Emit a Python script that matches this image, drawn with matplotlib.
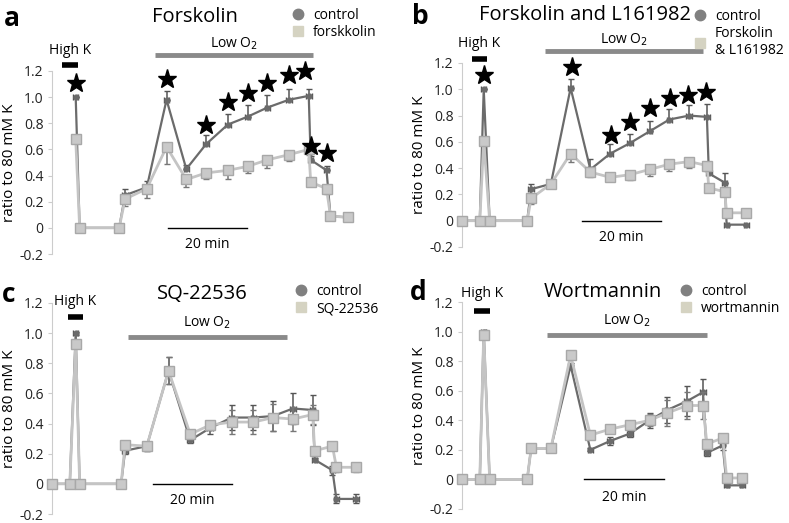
import numpy as np
import matplotlib.pyplot as plt
from matplotlib.lines import Line2D

plt.rcParams['font.family'] = ['Open Sans', 'DejaVu Sans']

W, H = 789, 523

# panel a - Forskolin (x in minutes)
a_x = [6, 7, 17, 18.5, 24, 29, 34, 39, 44.5, 49.5, 54.5, 60, 65, 65.5, 69.5, 70.5, 75]
a_ctrl = [1.0, 0, 0, 0.25, 0.31, 0.98, 0.45, 0.64, 0.79, 0.85, 0.92, 0.98, 1.01, 0.52, 0.44, 0.09, 0.08]
a_ctrl_err = [0, 0, 0, 0.05, 0.05, 0.07, 0.03, 0.07, 0.08, 0.09, 0.10, 0.08, 0.05, 0.03, 0.03, 0.01, 0.01]
a_trt = [0.68, 0, 0, 0.22, 0.30, 0.62, 0.37, 0.42, 0.44, 0.47, 0.52, 0.56, 0.60, 0.35, 0.30, 0.09, 0.08]
a_trt_err = [0.02, 0, 0, 0.05, 0.07, 0.13, 0.06, 0.05, 0.07, 0.05, 0.06, 0.05, 0.04, 0.03, 0.04, 0.01, 0.01]
a_star_x = [6, 29, 39, 44.5, 49.5, 54.5, 60, 64, 65.5, 69.5]
a_star_y = [1.11, 1.14, 0.79, 0.96, 1.03, 1.11, 1.17, 1.20, 0.63, 0.57]

# panel b - Forskolin and L161982
b_x = [0, 4.5, 5.5, 7, 16.5, 17.5, 22.5, 27.5, 32.5, 37.5, 42.5, 47.5, 52.5, 57.5, 62, 62.5, 66.5, 67, 72]
b_ctrl = [0, 0, 1.0, 0, 0, 0.24, 0.28, 1.01, 0.39, 0.51, 0.59, 0.68, 0.77, 0.80, 0.79, 0.36, 0.29, -0.03, -0.03]
b_ctrl_err = [0, 0, 0, 0, 0, 0.04, 0.02, 0.07, 0.08, 0.07, 0.07, 0.08, 0.08, 0.08, 0.10, 0.02, 0.07, 0, 0]
b_trt = [0, 0, 0.61, 0, 0, 0.17, 0.28, 0.51, 0.37, 0.33, 0.35, 0.39, 0.43, 0.45, 0.42, 0.25, 0.22, 0.06, 0.06]
b_trt_err = [0, 0, 0.02, 0, 0, 0.04, 0.02, 0.06, 0.04, 0.03, 0.04, 0.05, 0.05, 0.05, 0.04, 0.02, 0.03, 0.01, 0.01]
b_star_x = [5.6, 27.8, 37.7, 42.5, 47.6, 52.7, 57.2, 61.8]
b_star_y = [1.11, 1.17, 0.65, 0.75, 0.86, 0.93, 0.96, 0.98]

# panel c - SQ-22536
c_x = [0, 4.5, 6, 7, 17.5, 18.5, 24, 29.5, 35, 40, 45.5, 51, 56, 61, 66, 66.5, 71, 72, 77]
c_ctrl = [0, 0, 1.0, 0, 0, 0.22, 0.25, 0.75, 0.29, 0.37, 0.44, 0.44, 0.45, 0.50, 0.49, 0.16, 0.09, -0.10, -0.10]
c_ctrl_err = [0, 0, 0.01, 0, 0, 0.02, 0.03, 0.09, 0.02, 0.04, 0.08, 0.08, 0.10, 0.10, 0.10, 0.01, 0.03, 0.03, 0.03]
c_trt = [0, 0, 0.93, 0, 0, 0.26, 0.25, 0.75, 0.33, 0.39, 0.41, 0.41, 0.44, 0.43, 0.46, 0.22, 0.25, 0.11, 0.11]
c_trt_err = [0, 0, 0.02, 0, 0, 0.02, 0.03, 0.09, 0.02, 0.03, 0.08, 0.08, 0.09, 0.08, 0.06, 0.02, 0.02, 0.03, 0.03]

# panel d - Wortmannin
d_x = [0, 4.5, 5.5, 7, 16.5, 17.5, 22.5, 27.5, 32.5, 37.5, 42.5, 47.5, 52, 57, 61, 62, 66, 67, 71]
d_ctrl = [0, 0, 1.0, 0, 0, 0.21, 0.21, 0.77, 0.20, 0.26, 0.31, 0.40, 0.47, 0.53, 0.59, 0.18, 0.23, -0.04, -0.04]
d_ctrl_err = [0, 0, 0.01, 0, 0, 0.01, 0.01, 0.02, 0.01, 0.03, 0.02, 0.05, 0.09, 0.10, 0.09, 0.02, 0.03, 0.01, 0.01]
d_trt = [0, 0, 0.98, 0, 0, 0.21, 0.21, 0.84, 0.30, 0.34, 0.37, 0.40, 0.45, 0.50, 0.50, 0.24, 0.28, 0.01, 0.01]
d_trt_err = [0, 0, 0.02, 0, 0, 0.01, 0.01, 0.01, 0.02, 0.02, 0.02, 0.04, 0.09, 0.09, 0.09, 0.02, 0.02, 0.01, 0.01]

yticks = [-0.2, 0, 0.2, 0.4, 0.6, 0.8, 1.0, 1.2]
ytick_labels = ['-0.2', '0', '0.2', '0.4', '0.6', '0.8', '1.0', '1.2']

CTRL = '#6b6b6b'
TRT = '#c4c4c4'

fig = plt.figure(figsize=(W / 100, H / 100), dpi=100)


def pos(px, py):
    return px / W, 1 - py / H


def panel(left, top, bottom, x, ctrl, ctrl_err, trt, trt_err, one_sided):
    ax = fig.add_axes([left / W, 1 - bottom / H, 316 / W, (bottom - top) / H])
    ctrl_err = np.array(ctrl_err)
    trt_err = np.array(trt_err)
    if one_sided:
        cerr = [np.zeros_like(ctrl_err), ctrl_err]
        terr = [trt_err, np.zeros_like(trt_err)]
    else:
        cerr, terr = ctrl_err, trt_err
    ax.errorbar(x, ctrl, yerr=cerr, xerr=0.7, color=CTRL, lw=1.6, marker='o', ms=3.5,
                ecolor='#555555', elinewidth=1.1, capsize=2, zorder=3)
    ax.errorbar(x, trt, yerr=terr, xerr=0.6, color=TRT, lw=2, marker='s', ms=6.5,
                mfc='#c9c9c9', mec='#a8a8a8', ecolor='#777777', elinewidth=1.1,
                capsize=2, zorder=4)
    ax.set_xlim(0, 80)
    ax.set_ylim(-0.2, 1.2)
    ax.set_yticks(yticks)
    ax.set_yticklabels(ytick_labels)
    ax.set_xticks([])
    for s in ['top', 'right', 'bottom']:
        ax.spines[s].set_visible(False)
    ax.spines['left'].set_color('#cccccc')
    ax.tick_params(axis='y', colors='#cccccc', labelcolor='#222222', length=3,
                   labelsize=10, pad=3)
    ax.set_ylabel('ratio to 80 mM K', fontsize=11)
    ax.yaxis.set_label_coords(-35 / 316, 0.5)
    for art in ax.get_children():
        art.set_clip_on(False)
    return ax


def marks(ax, hk, hk_y, hk_lbl, lo, lo_y, lo_lbl, sb, sb_lbl):
    ax.plot(hk, [hk_y, hk_y], color='black', lw=4, solid_capstyle='butt', clip_on=False)
    ax.text(np.mean(hk), hk_lbl, 'High K', ha='center', va='center', fontsize=10)
    ax.plot(lo, [lo_y, lo_y], color='#8a8a8a', lw=3.5, solid_capstyle='butt', clip_on=False)
    ax.text(np.mean(lo), lo_lbl, 'Low O$_2$', ha='center', va='center', fontsize=10)
    ax.plot(sb, [0, 0], color='black', lw=1, clip_on=False)
    ax.text(np.mean(sb), sb_lbl, '20 min', ha='center', va='center', fontsize=10)


def legend(px, py, trt_label):
    h = [Line2D([], [], ls='none', marker='o', ms=7.5, color='#808080'),
         Line2D([], [], ls='none', marker='s', ms=7.5, color='#d5d3c2')]
    fig.legend(h, ['control', trt_label], loc='upper left', bbox_to_anchor=pos(px, py),
               frameon=False, fontsize=10, handlelength=0.8, handletextpad=0.7,
               labelspacing=0.15, borderaxespad=0, borderpad=0)


# a
ax = panel(52, 71, 254, a_x, a_ctrl, a_ctrl_err, a_trt, a_trt_err, True)
ax.plot(a_star_x, a_star_y, '*', color='black', ms=14, clip_on=False, zorder=5)
marks(ax, [2.5, 6.6], 1.245, 1.36, [26, 66], 1.32, 1.41, [29.4, 49.4], -0.13)
fig.text(*pos(195, 17), 'Forskolin', ha='center', va='center', fontsize=14.5)
fig.text(*pos(12, 19), 'a', ha='center', va='center', fontsize=19, fontweight='bold')
legend(292, 8, 'forskkolin')

# b
ax = panel(462, 63, 247, b_x, b_ctrl, b_ctrl_err, b_trt, b_trt_err, True)
ax.plot(b_star_x, b_star_y, '*', color='black', ms=14, clip_on=False, zorder=5)
marks(ax, [2.5, 6.3], 1.23, 1.35, [21, 61], 1.29, 1.38, [30.4, 50.4], -0.13)
fig.text(*pos(585, 15), 'Forskolin and L161982', ha='center', va='center', fontsize=14.5)
fig.text(*pos(420, 16), 'b', ha='center', va='center', fontsize=19, fontweight='bold')
legend(694, 9, 'Forskolin\n& L161982')

# c
ax = panel(52, 303, 514, c_x, c_ctrl, c_ctrl_err, c_trt, c_trt_err, False)
marks(ax, [4, 7.8], 1.11, 1.21, [19.2, 59.5], 0.975, 1.07, [25.6, 45.6], -0.11)
fig.text(*pos(202, 294), 'SQ-22536', ha='center', va='center', fontsize=14.5)
fig.text(*pos(9, 295), 'c', ha='center', va='center', fontsize=19, fontweight='bold')
legend(295, 284, 'SQ-22536')

# d
ax = panel(462, 302, 509, d_x, d_ctrl, d_ctrl_err, d_trt, d_trt_err, False)
marks(ax, [3, 7], 1.14, 1.26, [21.5, 62], 0.98, 1.07, [30.9, 51.1], -0.12)
fig.text(*pos(603, 292), 'Wortmannin', ha='center', va='center', fontsize=14.5)
fig.text(*pos(418, 292), 'd', ha='center', va='center', fontsize=19, fontweight='bold')
legend(680, 284, 'wortmannin')

fig.savefig('out.png', dpi=100)
